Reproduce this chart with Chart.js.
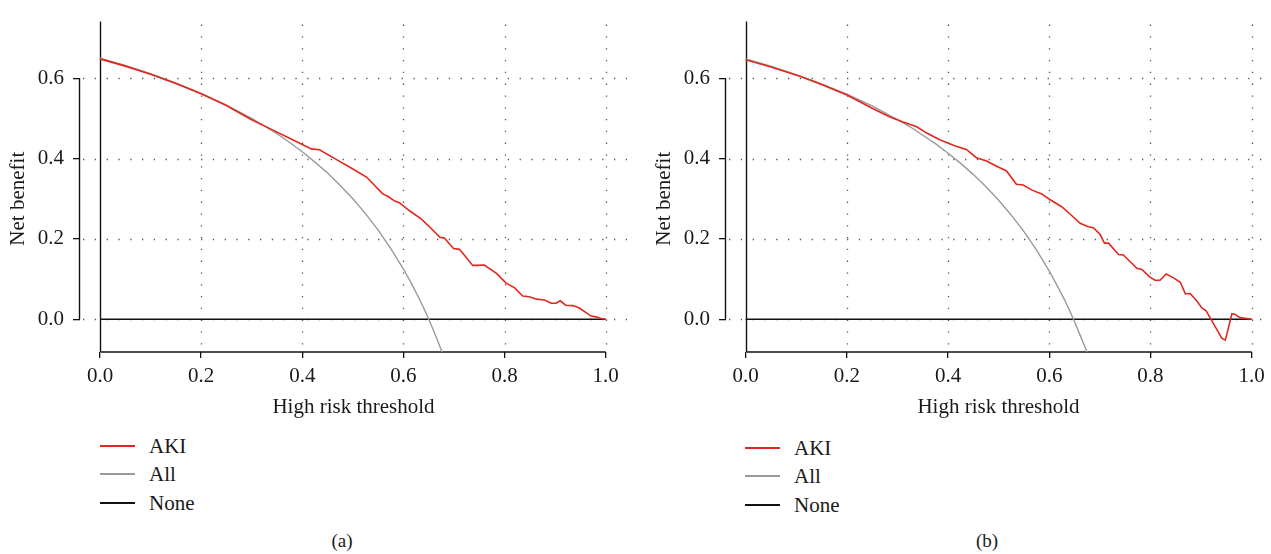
<!DOCTYPE html>
<html>
<head>
<meta charset="utf-8">
<script src="https://cdn.jsdelivr.net/npm/chart.js@4.4.1/dist/chart.umd.min.js"></script>
<style>
  html, body { margin: 0; padding: 0; background: #fff; }
  #page { position: relative; width: 1271px; height: 554px; overflow: hidden;
          font-family: 'Liberation Serif', 'Times New Roman', serif; color: #1a1a1a; }
  canvas { position: absolute; top: 0; }
  .legend { position: absolute; font-size: 21px; }
  .legend .row { position: absolute; left: 0; height: 0; white-space: nowrap; }
  .legend .swatch { position: absolute; left: 0; top: -1px; width: 35px; height: 2px; }
  .legend .label { position: absolute; top: -12px; line-height: 24px; }
  .caption { position: absolute; font-size: 19px; transform: translate(-50%, -50%); }
</style>
</head>
<body>
<div id="page">
  <canvas id="chartA" width="635" height="420" style="left:0"></canvas>
  <canvas id="chartB" width="636" height="420" style="left:635px"></canvas>
  <div class="legend" id="legendA" style="left:100px; top:446px"></div>
  <div class="legend" id="legendB" style="left:745px; top:448px"></div>
  <div class="caption" style="left:342px; top:541px">(a)</div>
  <div class="caption" style="left:987px; top:541px">(b)</div>
</div>
<script>
const FONT = "'Liberation Serif', 'Times New Roman', serif";

// axis ticks
const xTicks = [0, 0.2, 0.4, 0.6, 0.8, 1.0];
const yTicks = [0, 0.2, 0.4, 0.6];

// panel (a)
const akiThrA = [0, 0.05, 0.1, 0.15, 0.2, 0.25, 0.296, 0.335, 0.382, 0.418, 0.434, 0.467, 0.5, 0.527, 0.559,
  0.569, 0.583, 0.592, 0.612, 0.635, 0.655, 0.672, 0.681, 0.699, 0.711, 0.737, 0.747, 0.76, 0.784, 0.803,
  0.82, 0.836, 0.849, 0.863, 0.879, 0.892, 0.902, 0.91, 0.921, 0.935, 0.948, 0.971, 0.981, 0.991, 1.0];
const akiNbA = [0.648, 0.63, 0.61, 0.587, 0.561, 0.532, 0.499, 0.475, 0.446, 0.424, 0.422, 0.398, 0.374, 0.354, 0.312,
  0.306, 0.294, 0.29, 0.27, 0.25, 0.226, 0.204, 0.202, 0.176, 0.174, 0.134, 0.134, 0.135, 0.114, 0.09,
  0.078, 0.058, 0.056, 0.05, 0.048, 0.04, 0.04, 0.046, 0.035, 0.034, 0.028, 0.008, 0.006, 0.002, 0];
const allThrA = [0, 0.05, 0.1, 0.15, 0.2, 0.25, 0.3, 0.325, 0.35, 0.375, 0.4, 0.425, 0.45, 0.475, 0.5, 0.525,
  0.55, 0.575, 0.6, 0.615, 0.63, 0.64, 0.65, 0.66, 0.67, 0.68];
const allNbA = [0.65, 0.632, 0.611, 0.588, 0.562, 0.533, 0.5, 0.481, 0.462, 0.44, 0.417, 0.391, 0.364, 0.333, 0.3, 0.263,
  0.222, 0.176, 0.125, 0.091, 0.054, 0.028, 0.0, -0.029, -0.061, -0.094];

// panel (b)
const akiThrB = [0, 0.05, 0.107, 0.15, 0.2, 0.252, 0.284, 0.311, 0.338, 0.357, 0.3835, 0.413, 0.436, 0.456, 0.476,
  0.496, 0.5155, 0.535, 0.5485, 0.565, 0.585, 0.601, 0.6245, 0.641, 0.661, 0.677, 0.687, 0.7, 0.709, 0.717,
  0.737, 0.7465, 0.76, 0.773, 0.783, 0.799, 0.809, 0.819, 0.831, 0.8455, 0.859, 0.869, 0.8785, 0.892, 0.902,
  0.91, 0.925, 0.941, 0.948, 0.961, 0.9675, 0.977, 1.0];
const akiNbB = [0.646, 0.628, 0.605, 0.584, 0.558, 0.524, 0.504, 0.491, 0.479, 0.464, 0.447, 0.432, 0.4225, 0.402, 0.394,
  0.381, 0.369, 0.336, 0.334, 0.322, 0.312, 0.298, 0.28, 0.262, 0.239, 0.23, 0.228, 0.212, 0.1895, 0.1895,
  0.161, 0.16, 0.143, 0.127, 0.124, 0.105, 0.097, 0.097, 0.1125, 0.103, 0.092, 0.063, 0.064, 0.045, 0.0275,
  0.021, -0.012, -0.047, -0.052, 0.0137, 0.012, 0.004, 0];
const allThrB = [0, 0.05, 0.1, 0.15, 0.2, 0.25, 0.3, 0.325, 0.35, 0.375, 0.4, 0.425, 0.45, 0.475, 0.5, 0.525,
  0.55, 0.575, 0.6, 0.615, 0.63, 0.64, 0.65, 0.66, 0.67, 0.68];
const allNbB = [0.648, 0.63, 0.609, 0.586, 0.56, 0.531, 0.497, 0.479, 0.458, 0.437, 0.413, 0.388, 0.36, 0.33, 0.296, 0.259,
  0.218, 0.172, 0.12, 0.085, 0.049, 0.022, -0.006, -0.037, -0.067, -0.1];

// treat none
const noneThr = [0, 1];
const noneNb = [0, 0];

const seriesNames = ['AKI', 'All', 'None'];
const seriesColors = ['#e2281e', '#9a9a9a', '#111111'];

const toPoints = (xs, ys) => xs.map((v, i) => ({ x: v, y: ys[i] }));

// dotted grid, R-style axes and y title, all placed through the chart scales
const decorPlugin = {
  id: 'decor',
  beforeDatasetsDraw(chart) {
    const { ctx, chartArea: a, scales: { x, y } } = chart;
    const line = (x1, y1, x2, y2) => { ctx.beginPath(); ctx.moveTo(x1, y1); ctx.lineTo(x2, y2); ctx.stroke(); };
    ctx.save();
    ctx.strokeStyle = '#555';
    ctx.lineWidth = 1.3;
    ctx.setLineDash([1.3, 10.5]);
    yTicks.forEach(v => {
      const py = Math.round(y.getPixelForValue(v)) + 0.5;
      line(a.left + 3, py, a.right, py);
    });
    xTicks.slice(1).forEach(v => {
      const px = Math.round(x.getPixelForValue(v)) + 0.5;
      line(px, a.top + 3, px, a.bottom);
    });
    ctx.setLineDash([]);
    ctx.strokeStyle = '#111';
    ctx.lineWidth = 1.4;
    const x0 = Math.round(x.getPixelForValue(0)) + 0.5;
    line(x0, a.top, x0, a.bottom);
    line(x0, a.bottom, x.getPixelForValue(1), a.bottom);
    const ax = Math.round(a.left) - 0.5;
    line(ax, y.getPixelForValue(0), ax, y.getPixelForValue(0.6));
    // y axis title, centred on the tick span
    ctx.fillStyle = '#1a1a1a';
    ctx.font = '21px ' + FONT;
    ctx.textAlign = 'center';
    ctx.textBaseline = 'middle';
    ctx.translate(a.left - 62, (y.getPixelForValue(0) + y.getPixelForValue(0.6)) / 2);
    ctx.rotate(-Math.PI / 2);
    ctx.fillText('Net benefit', 0, 0);
    ctx.restore();
  }
};

function makeChart(id, aki, all, yWidth, xMin, xMax, padRight) {
  return new Chart(document.getElementById(id), {
    type: 'line',
    data: {
      datasets: [
        { label: seriesNames[0], data: aki, borderColor: seriesColors[0], borderWidth: 1.6 },
        { label: seriesNames[1], data: all, borderColor: seriesColors[1], borderWidth: 1.4 },
        { label: seriesNames[2], data: toPoints(noneThr, noneNb), borderColor: seriesColors[2], borderWidth: 1.4 }
      ].map(d => Object.assign(d, { pointRadius: 0, tension: 0, fill: false }))
    },
    options: {
      responsive: false,
      animation: false,
      events: [],
      layout: { padding: { top: 12, right: padRight, left: 0, bottom: 0 } },
      plugins: { legend: { display: false }, tooltip: { enabled: false } },
      scales: {
        x: {
          type: 'linear',
          min: xMin,
          max: xMax,
          afterBuildTicks: s => { s.ticks = xTicks.map(v => ({ value: v })); },
          afterFit: s => { s.height = 68; },
          border: { display: false },
          grid: { drawOnChartArea: false, tickLength: 6, color: '#111', lineWidth: 1.3 },
          ticks: { padding: 6, color: '#1a1a1a', font: { family: FONT, size: 21 }, callback: v => v.toFixed(1) },
          title: { display: true, text: 'High risk threshold', color: '#1a1a1a', font: { family: FONT, size: 21 }, padding: { top: 0, bottom: 0 } }
        },
        y: {
          type: 'linear',
          min: -0.0815,
          max: 0.7408,
          afterBuildTicks: s => { s.ticks = yTicks.map(v => ({ value: v })); },
          afterFit: s => { s.width = yWidth; },
          border: { display: false },
          grid: { drawOnChartArea: false, tickLength: 7, color: '#111', lineWidth: 1.3 },
          ticks: { padding: 9, color: '#1a1a1a', font: { family: FONT, size: 21 }, callback: v => v.toFixed(1) }
        }
      }
    },
    plugins: [decorPlugin]
  });
}

makeChart('chartA', toPoints(akiThrA, akiNbA), toPoints(allThrA, allNbA), 80, -0.03955, 1.0421, 8);
makeChart('chartB', toPoints(akiThrB, akiNbB), toPoints(allThrB, allNbB), 91, -0.0389, 1.0382, 0);

function makeLegend(id) {
  const box = document.getElementById(id);
  seriesNames.forEach((name, i) => {
    const row = document.createElement('div');
    row.className = 'row';
    row.style.top = (i * 28.3) + 'px';
    const sw = document.createElement('div');
    sw.className = 'swatch';
    sw.style.background = seriesColors[i];
    const lb = document.createElement('div');
    lb.className = 'label';
    lb.style.left = '49px';
    lb.textContent = name;
    row.appendChild(sw);
    row.appendChild(lb);
    box.appendChild(row);
  });
}
makeLegend('legendA');
makeLegend('legendB');
</script>
</body>
</html>
